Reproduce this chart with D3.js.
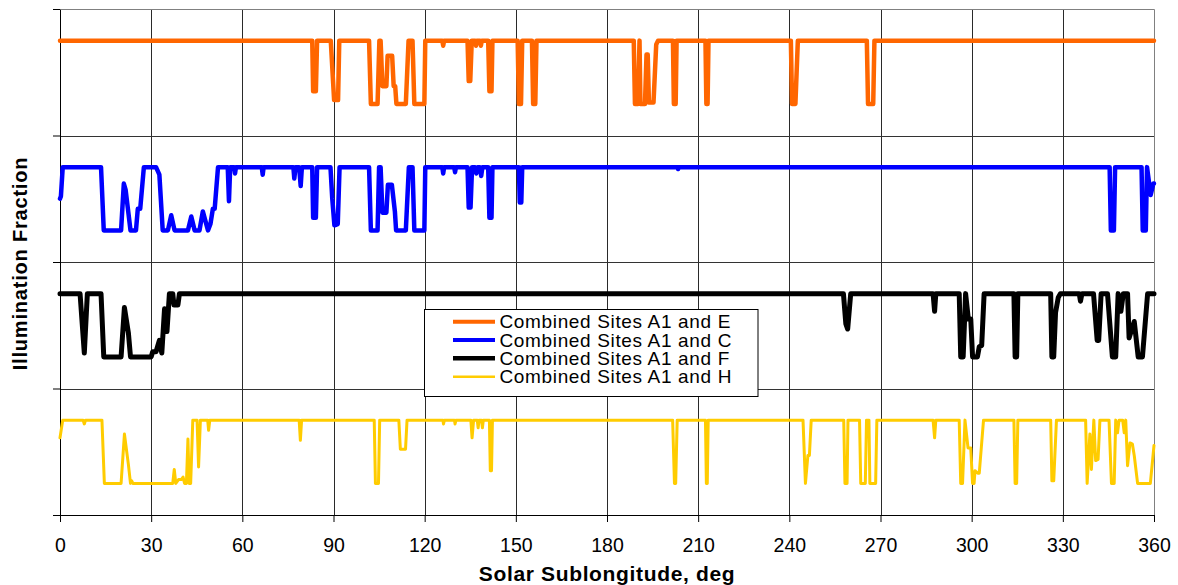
<!DOCTYPE html>
<html>
<head>
<meta charset="utf-8">
<script src="https://cdn.jsdelivr.net/npm/d3@7"></script>
<style>
  html, body { margin: 0; padding: 0; background: #fff; }
  svg { display: block; font-family: "Liberation Sans", Arial, sans-serif; }
</style>
</head>
<body>
<script>
// ---------------- DATA ----------------
const xTicks = [0, 30, 60, 90, 120, 150, 180, 210, 240, 270, 300, 330, 360];
const yTicks = [0, 1, 2, 3, 4];
const seriesNames = [
  "Combined Sites A1 and E",
  "Combined Sites A1 and C",
  "Combined Sites A1 and F",
  "Combined Sites A1 and H"
];
const seriesColors = ["#FF6600", "#0000FF", "#000000", "#FFCC00"];
const bandOffsets = [3, 2, 1, 0];   // vertical stacking band of each series

// [solar sublongitude deg, illumination fraction]
const sitesA1E = [
  [0,1],[83.0,1],[83.3,0.6],[84.2,0.6],[84.6,1],
  [89.1,1],[90.2,0.53],[91.5,0.53],[91.9,1],
  [101.7,1],[102.3,0.5],[104.5,0.5],[105.1,1],[105.5,1],[106.1,0.64],[107.4,0.64],[107.8,0.88],[109.3,0.88],[109.8,0.64],[110.3,0.64],[110.7,0.5],[113.8,0.5],[114.7,1],[116.0,1],[116.6,0.5],[119.9,0.5],[120.2,1],
  [125.8,1],[126.1,0.96],[126.4,1],
  [134.1,1],[134.5,0.68],[135.0,0.68],[135.5,1],
  [136.6,1],[136.9,0.96],[137.2,1],[138.2,1],[138.5,0.96],[138.8,1],
  [140.9,1],[141.3,0.6],[142.0,0.6],[142.3,1],
  [150.6,1],[151.0,0.5],[151.7,0.5],[152.1,1],
  [155.3,1],[155.7,0.5],[156.4,0.5],[156.8,1],
  [188.8,1],[189.2,0.5],[190.2,0.5],[190.7,1],[191.0,0.5],[192.5,0.5],[193.0,0.89],[193.4,0.89],[193.8,0.51],[195.3,0.51],[196.2,0.97],[196.8,1],
  [201.7,1],[202.0,0.5],[202.6,0.5],[202.9,1],
  [212.4,1],[212.7,0.5],[213.1,0.5],[213.4,1],
  [240.5,1],[240.9,0.5],[242.0,0.5],[242.8,1],
  [265.5,1],[265.9,0.5],[267.6,0.5],[268.0,1],
  [360,1]
];

const sitesA1C = [
  [0,0.75],[0.3,0.77],[0.9,1],
  [13.5,1],[14.4,0.5],[20.1,0.5],[21.0,0.87],[21.6,0.82],[22.5,0.64],[23.2,0.5],[25.0,0.5],[25.6,0.67],[26.4,0.67],[27.6,1],
  [31.6,1],[32.7,0.94],[33.8,0.5],[35.5,0.5],[36.6,0.62],[37.7,0.5],[42.1,0.5],[43.2,0.61],[44.3,0.5],[45.9,0.5],[47.0,0.65],[48.7,0.5],[49.5,0.55],[50.3,0.67],[50.9,0.67],[52.0,1],
  [55.2,1],[55.6,0.73],[56.0,1],[57.3,1],[57.6,0.95],[57.9,1],
  [66.4,1],[66.7,0.94],[67.0,1],
  [76.8,1],[77.1,0.91],[77.5,1],[78.7,1],[79.2,0.85],[79.6,1],
  [83.0,1],[83.3,0.6],[84.2,0.6],[84.6,1],
  [89.0,1],[89.6,0.75],[90.3,0.54],[91.4,0.55],[92.0,1],
  [101.7,1],[102.3,0.5],[104.5,0.5],[105.0,1],[105.5,1],[106.1,0.64],[107.4,0.64],[107.9,0.86],[109.2,0.86],[110.2,0.65],[110.6,0.5],[113.8,0.5],[114.8,1],[116.0,1],[116.6,0.5],[119.9,0.5],[120.2,1],
  [125.8,1],[126.1,0.95],[126.4,1],[129.7,1],[130.0,0.96],[130.3,1],
  [134.1,1],[134.5,0.68],[135.1,0.68],[135.6,1],
  [136.6,1],[137.0,0.95],[137.4,1],[138.2,1],[138.6,0.93],[139.0,1],
  [140.9,1],[141.3,0.6],[142.0,0.6],[142.3,1],
  [151.0,1],[151.3,0.72],[151.8,0.72],[152.1,1],
  [203.2,1],[203.4,0.985],[203.6,1],
  [345.4,1],[345.8,0.5],[346.8,0.5],[347.2,1],
  [355.9,1],[356.3,0.5],[357.3,0.5],[357.7,1],[358.9,0.78],[359.8,0.87],[360,0.87]
];

const sitesA1F = [
  [0,1],[6.6,1],[8.0,0.53],[9.0,1],
  [13.5,1],[14.4,0.5],[20.1,0.5],[21.2,0.89],[22.5,0.69],[23.2,0.5],[30.0,0.5],[30.5,0.54],[31.6,0.54],[32.7,0.63],[33.5,0.53],[34.4,0.88],[35.2,0.7],[36.0,1],[37.1,1],[37.5,0.91],[38.8,0.91],[39.3,1],
  [257.8,1],[258.6,0.76],[259.2,0.72],[260.2,1],
  [287.3,1],[287.8,0.86],[288.2,1],
  [295.9,1],[296.4,0.5],[297.2,0.5],[298.0,1],[298.9,0.8],[299.7,0.8],[300.3,0.5],[301.9,0.5],[302.5,0.58],[303.3,0.59],[304.1,1],
  [313.9,1],[314.3,0.5],[314.8,0.5],[315.2,1],
  [326.0,1],[326.4,0.5],[327.0,0.5],[327.6,0.85],[328.5,0.97],[329.2,1],
  [335.4,1],[335.8,0.94],[336.3,1],
  [340.1,1],[341.3,0.63],[341.8,0.63],[342.6,1],
  [344.7,1],[346.3,0.5],[347.4,0.5],[348.2,1],[349.1,0.86],[349.9,1],[351.3,1],[351.8,0.65],[353.5,0.78],[354.8,0.5],[356.2,0.5],[357.9,1],
  [360,1]
];

const sitesA1H = [
  [0,0.86],[0.9,1],[7.6,1],[8.0,0.97],[8.4,1],
  [13.8,1],[14.6,0.5],[20.1,0.5],[21.2,0.89],[22.5,0.65],[23.2,0.5],[23.6,0.52],[24.0,0.5],
  [37.1,0.5],[37.6,0.61],[38.1,0.5],[39.0,0.53],[39.9,0.53],[40.5,0.55],[41.0,0.5],[41.6,0.5],[42.1,0.85],[42.5,0.5],[43.0,0.5],[43.7,1],
  [45.1,1],[45.6,0.63],[46.2,1],
  [48.6,1],[48.9,0.92],[49.3,1],
  [78.7,1],[79.1,0.84],[79.5,1],
  [103.4,1],[103.8,0.5],[104.8,0.5],[105.2,1],
  [111.5,1],[112.0,0.77],[113.7,0.77],[114.2,1],
  [126.0,1],[126.2,0.97],[126.5,1],[129.8,1],[130.0,0.97],[130.3,1],
  [135.2,1],[135.6,0.86],[136.1,1],
  [137.3,1],[137.6,0.94],[137.9,1],[138.7,1],[139.0,0.94],[139.3,1],
  [141.3,1],[141.6,0.6],[142.0,0.6],[142.3,1],
  [201.6,1],[202.2,0.5],[202.6,0.5],[203.1,1],
  [212.4,1],[212.7,0.5],[213.0,0.5],[213.3,1],
  [244.5,1],[245.3,0.5],[246.1,0.72],[246.6,0.72],[247.2,1],
  [257.9,1],[258.3,0.5],[259.0,0.5],[259.3,1],
  [263.1,1],[263.5,0.5],[265.0,0.5],[265.4,1],[266.2,1],[266.5,0.5],[268.4,0.5],[268.8,1],
  [287.3,1],[287.8,0.86],[288.2,1],
  [295.9,1],[296.4,0.5],[297.0,0.5],[297.8,1],[298.8,0.78],[299.7,0.78],[300.3,0.5],[300.8,0.5],[301.1,0.6],[302.0,0.58],[302.5,0.58],[303.9,1],
  [313.9,1],[314.3,0.5],[314.8,0.5],[315.2,1],
  [326.0,1],[326.4,0.52],[327.0,0.52],[327.9,1],
  [337.5,1],[338.0,0.5],[338.9,0.89],[339.4,0.61],[340.2,1],[340.8,0.68],[341.6,0.69],[342.2,1],
  [345.2,1],[346.0,0.5],[346.9,0.5],[347.4,1],[348.0,0.9],[348.5,1],[349.7,1],[350.2,0.9],[350.7,1],[351.3,0.64],[352.1,0.82],[352.9,0.81],[353.5,0.72],[354.6,0.5],[358.8,0.5],[360,0.8]
];

const seriesData = [sitesA1E, sitesA1C, sitesA1F, sitesA1H];
const seriesWidths = [4.5, 4.5, 5, 3];

// ---------------- CHART ----------------
const W = 1178, H = 585;
const svg = d3.select("body").append("svg").attr("width", W).attr("height", H);

const x = d3.scaleLinear().domain([0, 360]).range([60, 1154]);
const y = d3.scaleLinear().domain([0, 4]).range([515, 9]);

const px = v => Math.round(x(v)) + 0.5;
const py = v => Math.round(y(v)) + 0.5;

// gridlines
const grid = svg.append("g");
grid.selectAll("line.v").data(xTicks.filter(t => t > 0 && t < 360)).enter().append("line")
  .attr("x1", d => px(d)).attr("x2", d => px(d))
  .attr("y1", py(4)).attr("y2", py(0))
  .attr("stroke", "#2a2a2a").attr("stroke-width", 1);
grid.selectAll("line.h").data(yTicks.filter(t => t > 0 && t < 4)).enter().append("line")
  .attr("x1", px(0)).attr("x2", px(360))
  .attr("y1", d => py(d)).attr("y2", d => py(d))
  .attr("stroke", "#333").attr("stroke-width", 1);
// top and right plot border
grid.append("line").attr("x1", px(0)).attr("x2", px(360)).attr("y1", py(4)).attr("y2", py(4))
  .attr("stroke", "#808080").attr("stroke-width", 1);
grid.append("line").attr("x1", px(360)).attr("x2", px(360)).attr("y1", py(4)).attr("y2", py(0))
  .attr("stroke", "#808080").attr("stroke-width", 1);

// axes
const xAxis = svg.append("g").attr("transform", `translate(0,${Math.round(y(0))})`)
  .call(d3.axisBottom(x).tickValues(xTicks).tickSize(7).tickSizeOuter(0).tickPadding(16).tickFormat(d3.format("d")));
xAxis.select(".domain").attr("stroke", "#000");
xAxis.selectAll(".tick line").attr("stroke", "#000");
xAxis.selectAll(".tick text").attr("fill", "#000")
  .style("font-size", "19.5px").style("font-family", '"Liberation Sans", Arial, sans-serif');

const yAxis = svg.append("g").attr("transform", `translate(${Math.round(x(0))},0)`)
  .call(d3.axisLeft(y).tickValues(yTicks).tickSize(7).tickSizeOuter(0).tickFormat(""));
yAxis.select(".domain").attr("stroke", "#000");
yAxis.selectAll(".tick line").attr("stroke", "#000");

// series
const lines = svg.append("g");
seriesData.forEach((data, i) => {
  const off = bandOffsets[i];
  const line = d3.line()
    .x(d => x(d[0]))
    .y(d => y(off + d[1] - 0.25));
  lines.append("path")
    .datum(data)
    .attr("d", line)
    .attr("fill", "none")
    .attr("stroke", seriesColors[i])
    .attr("stroke-width", seriesWidths[i])
    .attr("stroke-linejoin", "round")
    .attr("stroke-linecap", "round");
});

// legend
const leg = svg.append("g");
leg.append("rect")
  .attr("x", 424.5).attr("y", 309.5).attr("width", 333.5).attr("height", 87)
  .attr("fill", "#fff").attr("stroke", "#000").attr("stroke-width", 1);
seriesNames.forEach((name, i) => {
  const cy = 321.7 + i * 18.33;
  leg.append("line")
    .attr("x1", 453).attr("x2", 495).attr("y1", cy).attr("y2", cy)
    .attr("stroke", seriesColors[i]).attr("stroke-width", seriesWidths[i] - 0.5);
  leg.append("text")
    .attr("x", 499.5).attr("y", cy + 6.6)
    .attr("fill", "#000")
    .style("font-size", "19px").style("letter-spacing", "0.65px")
    .text(name);
});

// axis titles
svg.append("text")
  .attr("x", 607).attr("y", 581)
  .attr("text-anchor", "middle")
  .style("font-size", "21px").style("font-weight", "bold").style("letter-spacing", "0.65px")
  .text("Solar Sublongitude, deg");

svg.append("text")
  .attr("transform", "translate(26.5,263.5) rotate(-90)")
  .attr("text-anchor", "middle")
  .style("font-size", "20px").style("font-weight", "bold").style("letter-spacing", "0.8px")
  .text("Illumination Fraction");
</script>
</body>
</html>
